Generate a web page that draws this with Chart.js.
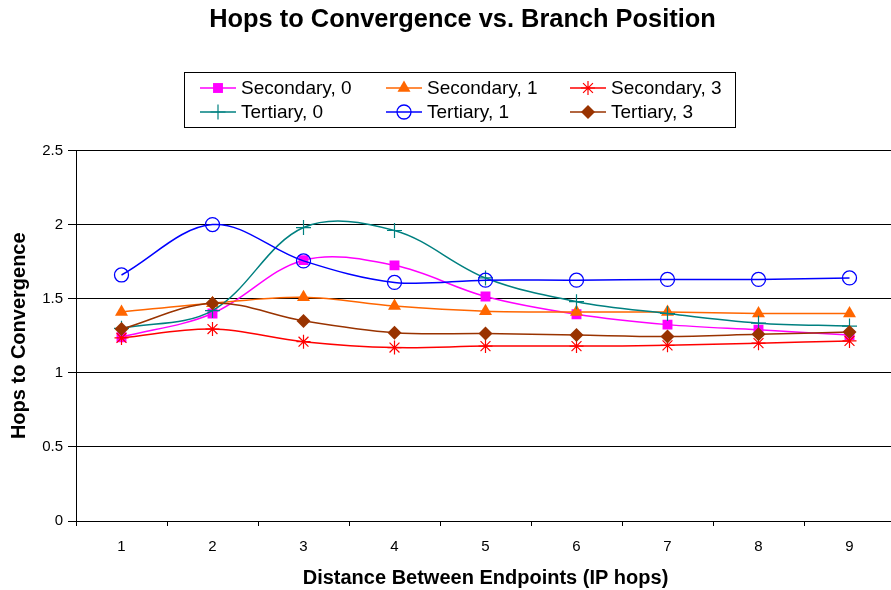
<!DOCTYPE html>
<html>
<head>
<meta charset="utf-8">
<script src="https://cdn.jsdelivr.net/npm/chart.js@4/dist/chart.umd.min.js"></script>
<style>
  html, body { margin: 0; padding: 0; background: #fff; overflow: hidden; }
  #wrap { width: 925px; height: 590px; }
</style>
</head>
<body>
<div id="wrap"><canvas id="c" width="925" height="590"></canvas></div>
<script>
const categories = ['1', '2', '3', '4', '5', '6', '7', '8', '9'];
const seriesNames = ['Secondary, 0', 'Secondary, 1', 'Secondary, 3', 'Tertiary, 0', 'Tertiary, 1', 'Tertiary, 3'];
const secondary0 = [1.24, 1.40, 1.76, 1.725, 1.515, 1.395, 1.325, 1.29, 1.255];
const secondary1 = [1.41, 1.47, 1.51, 1.45, 1.415, 1.41, 1.41, 1.40, 1.40];
const secondary3 = [1.235, 1.295, 1.21, 1.17, 1.18, 1.18, 1.185, 1.20, 1.215];
const tertiary0 = [1.30, 1.42, 1.98, 1.96, 1.64, 1.48, 1.40, 1.335, 1.315];
const tertiary1 = [1.66, 2.00, 1.755, 1.61, 1.625, 1.625, 1.63, 1.63, 1.64];
const tertiary3 = [1.295, 1.47, 1.35, 1.27, 1.265, 1.255, 1.245, 1.26, 1.275];
const yTicks = [0, 0.5, 1, 1.5, 2, 2.5];
const yTickLabels = ['0', '0.5', '1', '1.5', '2', '2.5'];

const FONT = "'Liberation Sans', Arial, Helvetica, sans-serif";
const seriesData = [secondary0, secondary1, secondary3, tertiary0, tertiary1, tertiary3];
const styles = [
  { color: '#FF00FF', point: 'rect', r: 7, fill: '#FF00FF', bw: 0 },
  { color: '#FF6600', point: 'triangle', r: 7.5, fill: '#FF6600', bw: 0 },
  { color: '#FF0000', point: 'star', r: 7, fill: 'rgba(0,0,0,0)', bw: 1.2 },
  { color: '#008080', point: 'cross', r: 7.5, fill: 'rgba(0,0,0,0)', bw: 1.2 },
  { color: '#0000FF', point: 'circle', r: 7, fill: 'rgba(0,0,0,0)', bw: 1.3 },
  { color: '#993300', point: 'rectRot', r: 7, fill: '#993300', bw: 0 }
];

const datasets = seriesData.map((d, i) => ({
  label: seriesNames[i],
  data: d,
  borderColor: styles[i].color,
  borderWidth: 1.5,
  backgroundColor: styles[i].fill,
  pointStyle: styles[i].point,
  pointRadius: styles[i].r,
  pointBackgroundColor: styles[i].fill,
  pointBorderColor: styles[i].color,
  pointBorderWidth: styles[i].bw,
  pointHoverRadius: styles[i].r,
  tension: 0.35,
  fill: false,
  order: 6 - i
}));

const legendPlugin = {
  id: 'boxLegend',
  afterDraw(chart) {
    const ctx = chart.ctx;
    ctx.save();
    ctx.strokeStyle = '#000';
    ctx.lineWidth = 1;
    ctx.strokeRect(184.5, 72.5, 551, 55);
    const cols = [200, 386, 570];
    const rows = [88, 112];
    ctx.font = '19px ' + FONT;
    ctx.textBaseline = 'middle';
    ctx.textAlign = 'left';
    seriesNames.forEach((name, i) => {
      const x = cols[i % 3];
      const y = rows[Math.floor(i / 3)];
      const s = styles[i];
      ctx.strokeStyle = s.color;
      ctx.lineWidth = 1.5;
      ctx.beginPath();
      ctx.moveTo(x, y);
      ctx.lineTo(x + 36, y);
      ctx.stroke();
      ctx.fillStyle = s.fill;
      ctx.strokeStyle = s.color;
      ctx.lineWidth = s.bw;
      Chart.helpers.drawPoint(ctx, { pointStyle: s.point, radius: s.r, rotation: 0, borderWidth: s.bw }, x + 18, y);
      ctx.fillStyle = '#000';
      ctx.fillText(name, x + 41, y + 1);
    });
    ctx.restore();
  }
};

new Chart(document.getElementById('c'), {
  type: 'line',
  data: { labels: categories, datasets },
  plugins: [legendPlugin],
  options: {
    responsive: false,
    animation: false,
    layout: { padding: { left: 0, right: 0, top: 0, bottom: 0 } },
    plugins: {
      legend: { display: false },
      tooltip: { enabled: false },
      title: {
        display: true,
        text: 'Hops to Convergence vs. Branch Position',
        color: '#000',
        font: { family: FONT, size: 25.4, weight: 'bold', lineHeight: 1.2 },
        padding: { top: 5, bottom: 115 }
      }
    },
    scales: {
      x: {
        type: 'category',
        offset: true,
        grid: { display: true, drawOnChartArea: false, drawTicks: true, tickLength: 5, offset: true, color: '#000', lineWidth: 1 },
        border: { display: true, color: '#000', width: 1 },
        ticks: { color: '#000', font: { family: FONT, size: 15 }, padding: 12, maxRotation: 0 },
        title: {
          display: true,
          text: 'Distance Between Endpoints (IP hops)',
          color: '#000',
          font: { family: FONT, size: 20, weight: 'bold', lineHeight: 1.2 },
          padding: { top: 0, bottom: 0 }
        },
        afterFit(scale) { scale.height = 69; }
      },
      y: {
        min: 0,
        max: 2.5,
        afterBuildTicks(scale) { scale.ticks = yTicks.map(v => ({ value: v })); },
        grid: { display: true, drawOnChartArea: true, drawTicks: true, tickLength: 8, color: '#000', lineWidth: 1 },
        border: { display: true, color: '#000', width: 1 },
        ticks: {
          color: '#000',
          font: { family: FONT, size: 15 },
          padding: 5,
          callback: (v) => { const k = yTicks.indexOf(v); return k >= 0 ? yTickLabels[k] : ''; }
        },
        title: {
          display: true,
          text: 'Hops to Convergence',
          color: '#000',
          font: { family: FONT, size: 20, weight: 'bold', lineHeight: 1.2 },
          padding: { top: 7, bottom: 0 }
        },
        afterFit(scale) { scale.width = 76; }
      },
      yRight: {
        position: 'right',
        min: 0,
        max: 2.5,
        grid: { display: false, drawOnChartArea: false, drawTicks: false },
        border: { display: false },
        ticks: { display: false },
        afterFit(scale) { scale.width = 30; }
      }
    }
  }
});
</script>
</body>
</html>
